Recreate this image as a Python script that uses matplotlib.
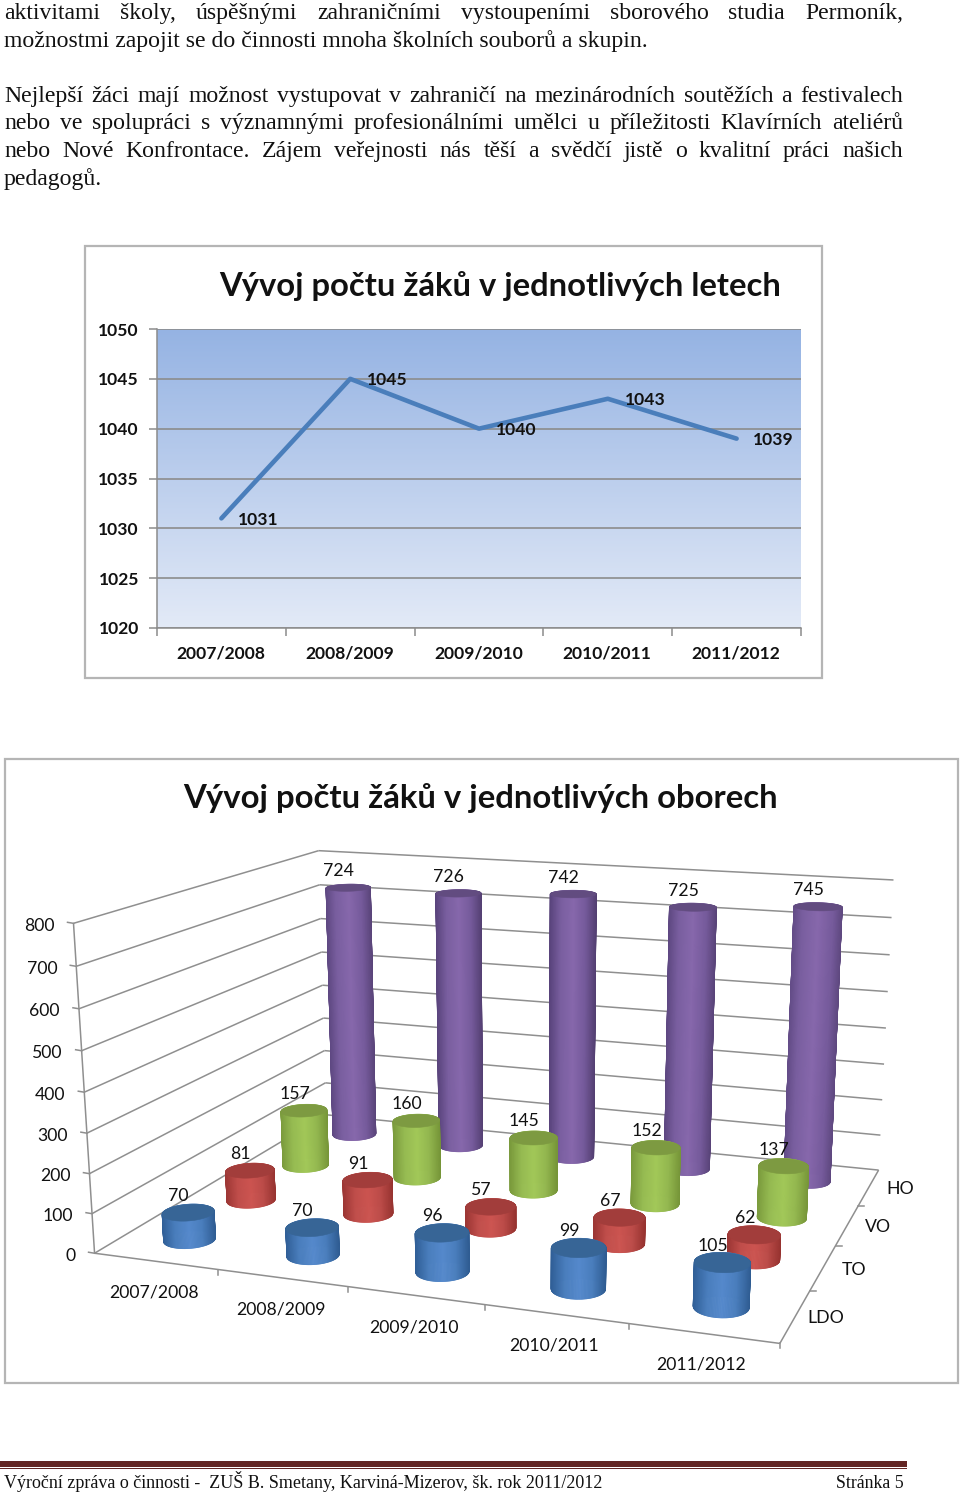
import numpy as np
import matplotlib
matplotlib.use("Agg")
import matplotlib.pyplot as plt
from matplotlib.collections import PolyCollection
from matplotlib.colors import LinearSegmentedColormap
from matplotlib.patches import Rectangle

# ---------- data ----------
years = ["2007/2008", "2008/2009", "2009/2010", "2010/2011", "2011/2012"]
pupils_total = [1031, 1045, 1040, 1043, 1039]
line_yticks = [1020, 1025, 1030, 1035, 1040, 1045, 1050]

series_names = ["LDO", "TO", "VO", "HO"]
ldo = [70, 70, 96, 99, 105]
to = [81, 91, 57, 67, 62]
vo = [157, 160, 145, 152, 137]
ho = [724, 726, 742, 725, 745]
bar_yticks = [0, 100, 200, 300, 400, 500, 600, 700, 800]

title_line = "Vývoj počtu žáků v jednotlivých letech"
title_bars = "Vývoj počtu žáků v jednotlivých oborech"

body_lines = [
    ("aktivitami školy, úspěšnými zahraničními vystoupeními sborového studia Permoník,", 19, True),
    ("možnostmi zapojit se do činnosti mnoha školních souborů a skupin.", 47, False),
    ("Nejlepší žáci mají možnost vystupovat v zahraničí na mezinárodních soutěžích a festivalech", 102, True),
    ("nebo ve spolupráci s významnými profesionálními umělci u příležitosti Klavírních ateliérů", 129, True),
    ("nebo Nové Konfrontace. Zájem veřejnosti nás těší a svědčí jistě o kvalitní práci našich", 157, True),
    ("pedagogů.", 185, False),
]
footer_left = "Výroční zpráva o činnosti -  ZUŠ B. Smetany, Karviná-Mizerov, šk. rok 2011/2012"
footer_right = "Stránka 5"

# ---------- figure ----------
W, H = 960, 1493
fig = plt.figure(figsize=(W / 100, H / 100), dpi=100, facecolor="white")
page = fig.add_axes([0, 0, 1, 1], zorder=0)
page.set_xlim(0, W)
page.set_ylim(H, 0)
page.axis("off")
renderer = fig.canvas.get_renderer()

SERIF = "Liberation Serif"
SANS = "Lato"
TEXT = "#111111"
LABEL = 12.7


def fitted(x0, x1, y, s, start, **kw):
    t = page.text(x0, y, s, fontsize=start, va="baseline", ha="left", **kw)
    w = t.get_window_extent(renderer).width
    t.set_fontsize(start * (x1 - x0) / w)
    return t


# body text, justified word by word
probe = page.text(0, 0, body_lines[1][0], fontsize=16, family=SERIF)
body_size = 16 * 644 / probe.get_window_extent(renderer).width
probe.remove()
for line, base, justify in body_lines:
    if not justify:
        page.text(4, base, line, fontsize=body_size, family=SERIF, color=TEXT, va="baseline")
        continue
    words = line.split(" ")
    arts = [page.text(0, base, w, fontsize=body_size, family=SERIF, color=TEXT, va="baseline") for w in words]
    widths = [a.get_window_extent(renderer).width for a in arts]
    gap = (903 - 4 - sum(widths)) / (len(words) - 1)
    x = 4
    for a, w in zip(arts, widths):
        a.set_x(x)
        x += w + gap

# footer
page.add_patch(Rectangle((0, 1460.5), 907, 6, fc="#632523", ec="none"))
page.add_patch(Rectangle((0, 1467.5), 907, 1.2, fc="#632523", ec="none"))
fitted(4, 606, 1488, footer_left, 14, family=SERIF, color=TEXT)
fitted(836, 904, 1488, footer_right, 14, family=SERIF, color=TEXT)

# ---------- line chart ----------
page.add_patch(Rectangle((85, 246), 737, 432, fc="white", ec="#b5b5b5", lw=1.6))
fitted(219, 782, 296, title_line, 24, family=SANS, weight="bold", color="#111111")

ax = fig.add_axes([157 / W, 1 - 628 / H, 644 / W, 299 / H], zorder=2)
ax.patch.set_alpha(0)
grad = LinearSegmentedColormap.from_list("bg", ["#95B3E3", "#E3EAF7"])
ax.imshow(np.linspace(0, 1, 256)[:, None], extent=[0, 5, 1020, 1050], origin="upper",
          cmap=grad, aspect="auto", zorder=0)
ax.set_xlim(0, 5)
ax.set_ylim(1020, 1050)
ax.set_yticks(line_yticks)
ax.set_xticks(range(6))
ax.set_xticklabels([])
ax.grid(axis="y", color="#8c8c8c", lw=1.2, zorder=1)
ax.set_axisbelow(False)
ax.tick_params(axis="both", length=6, width=1.1, color="#8c8c8c", pad=7)
ax.tick_params(axis="y", labelsize=12.6, labelcolor="#111111", pad=7)
for lab in ax.get_yticklabels():
    lab.set_family(SANS)
    lab.set_weight("bold")
for s in ["top", "right"]:
    ax.spines[s].set_visible(False)
for s in ["left", "bottom"]:
    ax.spines[s].set_color("#8c8c8c")
    ax.spines[s].set_linewidth(1.1)
xs = np.arange(5) + 0.5
ax.plot(xs, pupils_total, color="#4A7EBB", lw=3.3, solid_capstyle="round", zorder=3)
for x, v, yr in zip(xs, pupils_total, years):
    ax.annotate(str(v), (x, v), xytext=(37, -1.5), textcoords="offset pixels", ha="center", va="center",
                fontsize=12.6, family=SANS, weight="bold", color="#111111", zorder=4)
    ax.annotate(yr, (x, 1020), xytext=(-0.5, -25.5), textcoords="offset pixels", ha="center", va="center",
                fontsize=12.6, family=SANS, weight="bold", color="#111111", annotation_clip=False)

# ---------- 3-D cylinder chart, drawn through a fitted camera ----------
page.add_patch(Rectangle((5, 759), 953, 624, fc="white", ec="#b5b5b5", lw=1.6))
fitted(183, 778, 808, title_bars, 24, family=SANS, weight="bold", color="#111111")

N_U, N_V, TOP = len(years), len(series_names), bar_yticks[-1]
world = np.array([[0, 0, 0], [0, 0, TOP], [0, N_V, 0], [0, N_V, TOP],
                  [N_U, N_V, 0], [N_U, N_V, TOP], [N_U, 0, 0]], float)
screen = np.array([[93, 1253], [75, 923.5], [328, 1115], [317, 850.5],
                   [878, 1170], [894, 880], [780, 1343.5]], float)
rows = []
rhs = []
for (a, b, c), (px, py) in zip(world, screen):
    rows.append([a, b, c, 1, 0, 0, 0, 0, -px * a, -px * b, -px * c])
    rows.append([0, 0, 0, 0, a, b, c, 1, -py * a, -py * b, -py * c])
    rhs += [px, py]
cam = np.append(np.linalg.lstsq(np.array(rows), np.array(rhs), rcond=None)[0], 1).reshape(3, 4)


def proj(u, v, h):
    u, v, h = np.broadcast_arrays(np.asarray(u, float), np.asarray(v, float), np.asarray(h, float))
    p = cam @ np.stack([u, v, h, np.ones_like(u)])
    return p[0] / p[2], p[1] / p[2]


GRID = "#8f8f8f"


def seg(a, b, lw=1.1, z=3):
    x, y = proj(*np.array([a, b]).T)
    page.plot(x, y, color=GRID, lw=lw, zorder=z, solid_capstyle="butt")


for t in bar_yticks:
    seg((0, 0, t), (0, N_V, t))
    seg((0, N_V, t), (N_U, N_V, t))
    x, y = proj(0, 0, t)
    page.plot([x - 6, x], [y - 1, y], color=GRID, lw=1.1, zorder=3)
    page.text(x - 19, y + 2.5, str(t), ha="right", va="center", fontsize=LABEL, family=SANS, color=TEXT, zorder=8)
seg((0, 0, 0), (0, 0, TOP))
seg((0, 0, 0), (N_U, 0, 0))
seg((N_U, 0, 0), (N_U, N_V, 0))
for i in range(1, N_U + 1):
    x, y = proj(i, 0, 0)
    page.plot([x, x], [y, y + 5], color=GRID, lw=1.1, zorder=3)
for j in range(1, N_V):
    x, y = proj(N_U, j, 0)
    page.plot([x, x + 6], [y, y], color=GRID, lw=1.1, zorder=3)

for i, yr in enumerate(years):
    x, y = proj(i + 0.5, 0, 0)
    page.text(x - 2, y + 31.5, yr, ha="center", va="center", fontsize=LABEL, family=SANS, color=TEXT, zorder=8)
for j, name in enumerate(series_names):
    x, y = proj(N_U, j + 0.5, 0)
    page.text(x + 31, y + 2, name, ha="center", va="center", fontsize=LABEL, family=SANS, color=TEXT, zorder=8)

palettes = [
    (["#305F97", "#4A7EBD", "#5589CC", "#4A7EBD", "#2F5C92"], "#376596"),
    (["#9C3634", "#C04E4B", "#CC5450", "#BC4C49", "#973330"], "#A23D3B"),
    (["#7A9A3C", "#96BB52", "#A2C858", "#94B850", "#769538"], "#7D9A41"),
    (["#57427A", "#7A5FA0", "#8768AC", "#765B9C", "#523E70"], "#624C80"),
]
R_U, R_V = 0.185, 0.2
theta = np.linspace(0, 2 * np.pi, 145)
all_series = [ldo, to, vo, ho]
for j in reversed(range(N_V)):
    cmap = LinearSegmentedColormap.from_list("c", palettes[j][0])
    for i in range(N_U):
        val = all_series[j][i]
        cu, cv = i + 0.5, j + 0.5
        us = cu + R_U * np.cos(theta)
        vs = cv + R_V * np.sin(theta)
        bx, by = proj(us, vs, 0 * us)
        tx, ty = proj(us, vs, 0 * us + val)
        ccx, _ = proj(cu, cv, 0)
        tcx, _ = proj(cu, cv, val)
        half = (max(bx.max(), tx.max()) - min(bx.min(), tx.min())) / 2
        polys, ts = [], []
        for k in np.argsort(-np.sin(theta[:-1])):
            polys.append([(bx[k], by[k]), (tx[k], ty[k]), (tx[k + 1], ty[k + 1]), (bx[k + 1], by[k + 1])])
            mean_x = (bx[k] + bx[k + 1] + tx[k] + tx[k + 1]) / 4
            ts.append(np.clip(0.5 + (mean_x - (ccx + tcx) / 2) / (2 * half * 0.98), 0, 1))
        cols = cmap(np.array(ts))
        z = 4 + (N_V - j) * 0.1
        page.add_collection(PolyCollection(polys, facecolors=cols, edgecolors=cols, linewidths=0.6, zorder=z))
        page.fill(tx, ty, color=palettes[j][1], lw=0.4, zorder=z)
        lx, ly = proj(cu, cv, val)
        page.text(lx - 9.5, ly - 16.5, str(val), ha="center", va="center", fontsize=LABEL, family=SANS,
                  color=TEXT, zorder=9)

page.set_xlim(0, W)
page.set_ylim(H, 0)
fig.savefig("out.png", dpi=100)
